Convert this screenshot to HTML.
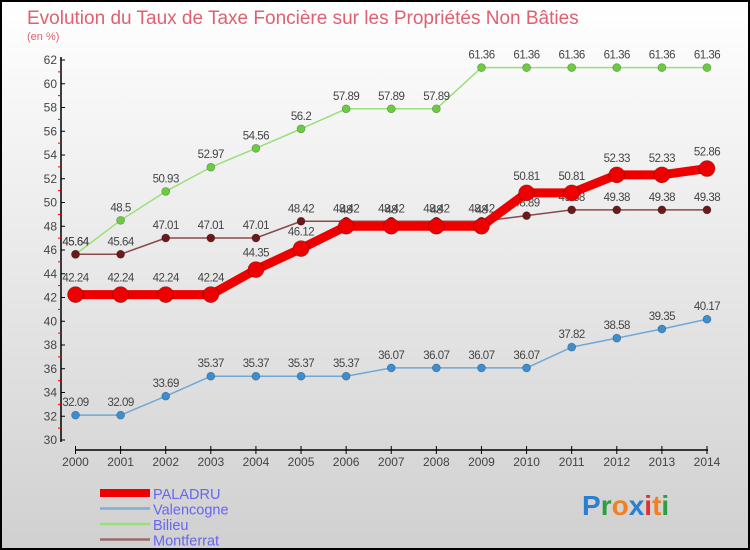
<!DOCTYPE html>
<html><head><meta charset="utf-8"><style>
body{margin:0}
#c{width:750px;height:550px;position:relative;overflow:hidden;font-family:"Liberation Sans",sans-serif}
</style></head><body>
<div id="c">
<svg id="s" width="750" height="550" xmlns="http://www.w3.org/2000/svg">
<defs><linearGradient id="bg" x1="0" y1="0" x2="0" y2="1"><stop offset="0" stop-color="#ffffff"/><stop offset="1" stop-color="#d0d0d0"/></linearGradient></defs>
<rect x="1" y="1" width="748" height="548" fill="url(#bg)" stroke="#000" stroke-width="2"/>
<text x="27" y="24" font-size="19" fill="#e06070">Evolution du Taux de Taxe Foncière sur les Propriétés Non Bâties</text>
<text x="27" y="40" font-size="11" fill="#e06070">(en %)</text>
<g id="g"></g>
</svg>
</div>
<script>
const years=[2000,2001,2002,2003,2004,2005,2006,2007,2008,2009,2010,2011,2012,2013,2014];
const paladru=[42.24,42.24,42.24,42.24,44.35,46.12,48,48,48,48,50.81,50.81,52.33,52.33,52.86];
const valencogne=[32.09,32.09,33.69,35.37,35.37,35.37,35.37,36.07,36.07,36.07,36.07,37.82,38.58,39.35,40.17];
const bilieu=[45.64,48.5,50.93,52.97,54.56,56.2,57.89,57.89,57.89,61.36,61.36,61.36,61.36,61.36,61.36];
const montferrat=[45.64,45.64,47.01,47.01,47.01,48.42,48.42,48.42,48.42,48.42,48.89,49.38,49.38,49.38,49.38];
const yTicks=[30,32,34,36,38,40,42,44,46,48,50,52,54,56,58,60,62];
const NS="http://www.w3.org/2000/svg";
const g=document.getElementById('g');
const X=i=>75.5+i*(707-75.5)/14;
const Y=v=>440-(v-30)*(380/32);
function mk(t,a,p){const e=document.createElementNS(NS,t);for(const k in a)e.setAttribute(k,a[k]);(p||g).appendChild(e);return e;}
let ax=mk('line',{x1:61,y1:57,x2:61,y2:442,stroke:'#000','stroke-width':1.5});


let xa=mk('line',{x1:75,y1:450,x2:708,y2:450,stroke:'#000','stroke-width':1.5});


yTicks.forEach(v=>{
 mk('line',{x1:61,y1:Y(v),x2:65,y2:Y(v),stroke:'#000'});
 if(v<62)mk('line',{x1:58,y1:Y(v+1),x2:61,y2:Y(v+1),stroke:'#e00'});
 const t=mk('text',{x:57,y:Y(v)+4,'font-size':12,'text-anchor':'end',fill:'#444'});t.textContent=v;
 
 
});
years.forEach((yr,i)=>{
 mk('line',{x1:X(i),y1:446,x2:X(i),y2:454,stroke:'#000'});
 const t=mk('text',{x:X(i),y:466,'font-size':12,'text-anchor':'middle',fill:'#444'});t.textContent=yr;
 
 
});
function series(data,name,col,dot,w,r){
 const sg=mk('g',{});
 
 
 const pl=mk('polyline',{points:data.map((v,i)=>X(i)+','+Y(v)).join(' '),fill:'none',stroke:col,'stroke-width':w,'stroke-linejoin':'round'},sg);
 
 
 data.forEach((v,i)=>{
  const c=mk('circle',{cx:X(i),cy:Y(v),r:r,fill:dot,stroke:'rgba(0,0,0,0.3)','stroke-width':0.7},sg);
  
  
  const t=mk('text',{x:X(i),y:Y(v)-(r+5),'font-size':11.5,'text-anchor':'middle',fill:'#444','letter-spacing':'-0.5'},sg);
  t.textContent=v;
  
  
 });
}
series(valencogne,'valencogne','#6fa8d8','#3d8ed0',1.5,4);
series(bilieu,'bilieu','#99e07a','#6ccc40',1.5,4);
series(montferrat,'montferrat','#8a4a4a','#6a1a1a',1.5,4);
series(paladru,'paladru','#ee0000','#ee0000',9,8);
const leg=[['PALADRU','#ee0000',8],['Valencogne','#80aed0',2.5],['Bilieu','#99e07a',2.5],['Montferrat','#9a6a6a',2.5]];
leg.forEach((l,i)=>{
 const y=493+i*15.5;
 const ln=mk('line',{x1:100,y1:y,x2:150,y2:y,stroke:l[1],'stroke-width':l[2]});
 
 
 const t=mk('text',{x:153,y:y+6,'font-size':14.5,fill:'#6666ee'});t.textContent=l[0];
 
 
});
const lg=mk('text',{x:582,y:515,'font-size':28,'font-weight':'bold'});


[['P','#2a7fd0'],['r','#2aa040'],['o','#f08020'],['x','#2a7fd0'],['i','#e03030'],['t','#f08020'],['i','#2aa040']].forEach(p=>{const s=mk('tspan',{fill:p[1]},lg);s.textContent=p[0];});
</script>
</body></html>
